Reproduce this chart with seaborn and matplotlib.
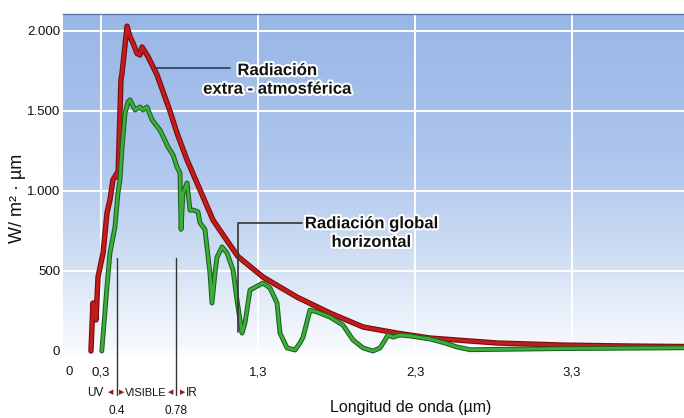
import numpy as np
import pandas as pd
import matplotlib
matplotlib.use("Agg")
import matplotlib.pyplot as plt
import matplotlib.patheffects as pe
from matplotlib.colors import LinearSegmentedColormap
import seaborn as sns

# ---- data ----
wl_extra = [0.236, 0.249, 0.268, 0.281, 0.313, 0.338, 0.357, 0.376, 0.402, 0.408,
            0.427, 0.434, 0.466, 0.485, 0.504, 0.529, 0.548, 0.561, 0.599, 0.657,
            0.739, 0.784, 0.848, 0.931, 1.013, 1.122, 1.173, 1.332, 1.548, 1.759,
            1.969, 2.185, 2.396, 2.822, 3.243, 3.669, 4.013]
irr_extra = [0, 300, 194, 462, 612, 862, 944, 1069, 1112, 1087,
             1694, 1737, 2030, 1962, 1925, 1860, 1850, 1900, 1840, 1725,
             1500, 1362, 1194, 1006, 819, 662, 590, 462, 337, 237,
             150, 112, 81, 50, 37, 31, 28]

wl_global = [0.305, 0.338, 0.357, 0.389, 0.408, 0.421, 0.433, 0.453, 0.472, 0.485,
             0.517, 0.548, 0.567, 0.593, 0.625, 0.676, 0.727, 0.759, 0.784, 0.803,
             0.810, 0.822, 0.848, 0.867, 0.886, 0.918, 0.931, 0.962, 0.994, 1.007,
             1.026, 1.039, 1.071, 1.103, 1.141, 1.166, 1.198, 1.217, 1.249, 1.332,
             1.376, 1.421, 1.440, 1.485, 1.536, 1.567, 1.587, 1.631, 1.676, 1.759,
             1.841, 1.905, 1.969, 2.032, 2.077, 2.109, 2.128, 2.160, 2.204, 2.268,
             2.396, 2.491, 2.568, 2.650, 3.243, 4.013]
irr_global = [0, 400, 612, 775, 987, 1069, 1256, 1487, 1556, 1569,
              1506, 1525, 1506, 1525, 1444, 1380, 1275, 1225, 1150, 1112,
              760, 987, 1050, 880, 881, 869, 800, 760, 487, 300,
              487, 587, 650, 612, 506, 319, 112, 175, 381, 425,
              394, 300, 112, 19, 6, 50, 87, 256, 244, 212,
              162, 69, 19, 0, 19, 69, 100, 87, 100, 94,
              75, 50, 25, 8, 15, 20]

y_ticks = [0, 500, 1000, 1500, 2000]
y_tick_labels = ["0", "500", "1.000", "1.500", "2.000"]
x_ticks = [0.3, 1.3, 2.3, 3.3]
x_tick_labels = ["0,3", "1,3", "2,3", "3,3"]
band_edges = [0.4, 0.78]
band_edge_labels = ["0.4", "0.78"]

df = pd.concat([
    pd.DataFrame({"wl": wl_extra, "irr": irr_extra, "serie": "extra"}),
    pd.DataFrame({"wl": wl_global, "irr": irr_global, "serie": "global"}),
])

sns.set_style("white")
plt.rcParams["font.family"] = ["Liberation Sans", "DejaVu Sans"]

fig = plt.figure(figsize=(6.84, 4.18), dpi=100)
ax = fig.add_axes([63/684, 1-355/418, 621/684, 341/418])

xmin, xmax = 0.058, 4.013
ymin, ymax = -25, 2106
ax.set_xlim(xmin, xmax)
ax.set_ylim(ymin, ymax)

# gradient background
cmap = LinearSegmentedColormap.from_list(
    "bg", [(0.0, "#f9fbfe"), (0.12, "#e9f0fa"), (0.32, "#cbdbf2"),
           (0.55, "#b0c7ee"), (0.8, "#a1bde9"), (1.0, "#99b7e6")])
grad = np.linspace(0, 1, 256).reshape(-1, 1)
ax.imshow(grad, extent=[xmin, xmax, ymin, ymax], origin="lower",
          aspect="auto", cmap=cmap, zorder=0)

for s in ["left", "right", "bottom"]:
    ax.spines[s].set_visible(False)
ax.spines["top"].set_color("#5d78a6")
ax.spines["top"].set_linewidth(1.0)

ax.set_xticks(x_ticks)
ax.set_xticklabels(x_tick_labels)
ax.set_xticks([0.095], minor=True)
ax.set_xticklabels(["0"], minor=True)
ax.set_yticks(y_ticks)
ax.set_yticklabels(y_tick_labels)
ax.tick_params(axis="both", which="both", length=0, labelsize=9.5, colors="#111111")
ax.tick_params(axis="x", which="both", pad=8)
ax.tick_params(axis="y", pad=2)
ax.grid(True, which="major", color="white", linewidth=1.4, zorder=1)
ax.set_axisbelow(True)

sns.lineplot(data=df[df.serie == "extra"], x="wl", y="irr", ax=ax,
             color="#c21c1c", linewidth=2.3, sort=False, zorder=3,
             path_effects=[pe.Stroke(linewidth=3.9, foreground="#7a0c0c"), pe.Normal()])
sns.lineplot(data=df[df.serie == "global"], x="wl", y="irr", ax=ax,
             color="#3cae3c", linewidth=2.0, sort=False, zorder=4,
             path_effects=[pe.Stroke(linewidth=3.5, foreground="#1d5e1d"), pe.Normal()])

ax.set_xlabel("Longitud de onda (µm)", fontsize=11.5, color="#111111")
ax.xaxis.set_label_coords(0.56, (355-400)/341)
ax.set_ylabel("W/ m² · µm", fontsize=13, color="#111111")
ax.yaxis.set_label_coords(-0.06, 0.46)

halo = [pe.withStroke(linewidth=3, foreground="white")]
ax.text(1.421, 1694, "Radiación\nextra - atmosférica", ha="center", va="center",
        fontsize=12, fontweight="bold", color="#111111", linespacing=1.3,
        path_effects=halo, zorder=6)
ax.plot([0.644, 1.122], [1769, 1769], color="#2b3a5c", lw=1.2, zorder=5)

ax.text(2.02, 737, "Radiación global\nhorizontal", ha="center", va="center",
        fontsize=12, fontweight="bold", color="#111111", linespacing=1.3,
        path_effects=halo, zorder=6)
ax.plot([1.58, 1.173, 1.173], [800, 800, 119], color="#333333", lw=1.2, zorder=5)

# band separators below the axis
for xb, lab in zip(band_edges, band_edge_labels):
    ax.plot([xb, xb], [581, -275], color="#333333", lw=1.0, clip_on=False, zorder=5)
    ax.annotate(lab, xy=(xb, -375), xycoords="data", ha="center", va="center",
                fontsize=8.5, color="#111111", annotation_clip=False)

row_y = -262
def row_text(x, dx_px, s, ha, color="#111111", size=8.5):
    ax.annotate(s, xy=(x, row_y), xycoords="data", xytext=(dx_px*0.72, 0),
                textcoords="offset points", ha=ha, va="center", fontsize=size,
                color=color, annotation_clip=False)

row_text(band_edges[0], -13, "UV", "right")
row_text(band_edges[0], -6.5, "◀", "center", "#8b1a1a", 5)
row_text(band_edges[0], 5, "▶", "center", "#8b1a1a", 5)
row_text(band_edges[0], 8.5, "VISIBLE", "left", size=8)
row_text(band_edges[1], -5.5, "◀", "center", "#8b1a1a", 5)
row_text(band_edges[1], 6, "▶", "center", "#8b1a1a", 5)
row_text(band_edges[1], 10, "IR", "left")

fig.savefig("out.png", dpi=100)
